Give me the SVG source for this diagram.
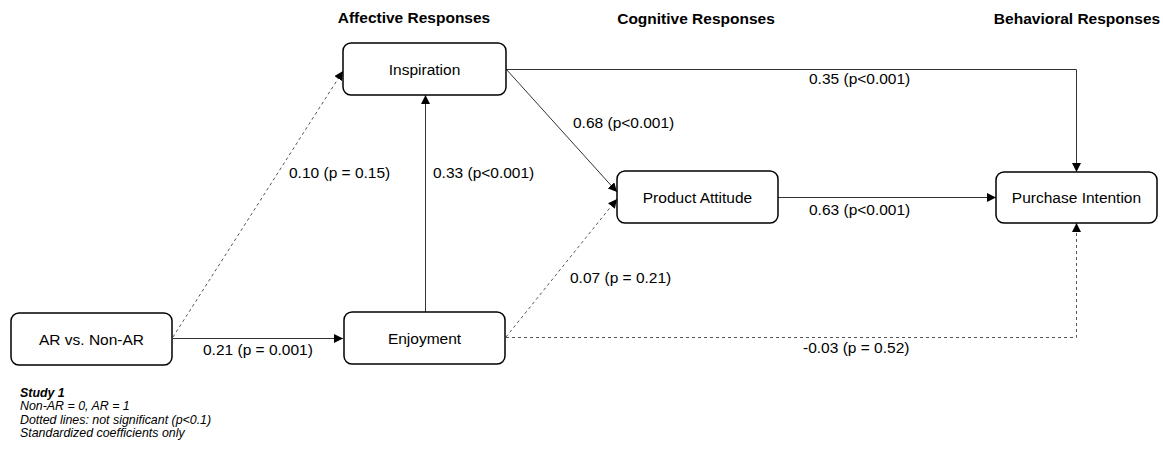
<svg xmlns="http://www.w3.org/2000/svg" width="1163" height="449" viewBox="0 0 1163 449">
<defs>
<marker id="ah" viewBox="0 0 10 10" refX="10" refY="5" markerWidth="9" markerHeight="9" markerUnits="userSpaceOnUse" orient="auto">
<path d="M0,0 L10,5 L0,10 z" fill="#000"/>
</marker>
<style>
.node rect{fill:#fff;stroke:#000;stroke-width:1.5}
.node text{font-family:"Liberation Sans",Arial,sans-serif;font-size:15.5px;fill:#000;text-anchor:middle;dominant-baseline:central}
.hdr{font-family:"Liberation Sans",Arial,sans-serif;font-size:15.5px;font-weight:bold;fill:#000;text-anchor:middle}
.lbl{font-family:"Liberation Sans",Arial,sans-serif;font-size:15.5px;fill:#000}
.leg{font-family:"Liberation Sans",Arial,sans-serif;font-size:12.4px;font-style:italic;fill:#000}
.e{fill:none;stroke:#333;stroke-width:1}
.d{fill:none;stroke:#555;stroke-width:1;stroke-dasharray:3,3}
</style>
</defs>
<rect width="1163" height="449" fill="#fff"/>
<g id="headers">
<text class="hdr" x="414" y="23">Affective Responses</text>
<text class="hdr" x="696" y="24">Cognitive Responses</text>
<text class="hdr" x="1077" y="24">Behavioral Responses</text>
</g>
<g id="connectors">
<path class="e" d="M173,338.5 L343,338.5" marker-end="url(#ah)"/>
<path class="d" d="M173,337 L343,71" marker-end="url(#ah)"/>
<path class="e" d="M425.5,312 L425.5,95" marker-end="url(#ah)"/>
<path class="e" d="M506,69 L617,192" marker-end="url(#ah)"/>
<path class="d" d="M506,337 L617,199" marker-end="url(#ah)"/>
<path class="e" d="M506,69.5 L1076.5,69.5 L1076.5,172" marker-end="url(#ah)"/>
<path class="e" d="M778,197.5 L996,197.5" marker-end="url(#ah)"/>
<path class="d" d="M506,337.5 L1076.5,337.5 L1076.5,223" marker-end="url(#ah)"/>
</g>
<g id="labels">
<text class="lbl" x="809" y="84">0.35 (p&lt;0.001)</text>
<text class="lbl" x="573" y="128">0.68 (p&lt;0.001)</text>
<text class="lbl" x="289" y="178">0.10 (p = 0.15)</text>
<text class="lbl" x="433" y="178">0.33 (p&lt;0.001)</text>
<text class="lbl" x="809" y="215">0.63 (p&lt;0.001)</text>
<text class="lbl" x="570" y="283">0.07 (p = 0.21)</text>
<text class="lbl" x="203" y="355">0.21 (p = 0.001)</text>
<text class="lbl" x="803" y="353">-0.03 (p = 0.52)</text>
</g>
<g id="n-ar" class="node">
<rect x="11" y="313" width="161" height="52" rx="8"/>
<text x="91.5" y="339">AR vs. Non-AR</text>
</g>
<g id="n-inspiration" class="node">
<rect x="343" y="43" width="163" height="52" rx="8"/>
<text x="424.5" y="69">Inspiration</text>
</g>
<g id="n-enjoyment" class="node">
<rect x="344" y="312" width="161" height="52" rx="8"/>
<text x="424.5" y="338">Enjoyment</text>
</g>
<g id="n-attitude" class="node">
<rect x="617" y="171" width="161" height="52" rx="8"/>
<text x="697.5" y="197">Product Attitude</text>
</g>
<g id="n-purchase" class="node">
<rect x="996" y="172" width="161" height="51" rx="8"/>
<text x="1076.5" y="197.5">Purchase Intention</text>
</g>
<g id="legend">
<text class="leg" x="20" y="397" font-weight="bold">Study 1</text>
<text class="leg" x="20" y="410">Non-AR = 0, AR = 1</text>
<text class="leg" x="20" y="423.5">Dotted lines: not significant (p&lt;0.1)</text>
<text class="leg" x="20" y="437">Standardized coefficients only</text>
</g>
</svg>
